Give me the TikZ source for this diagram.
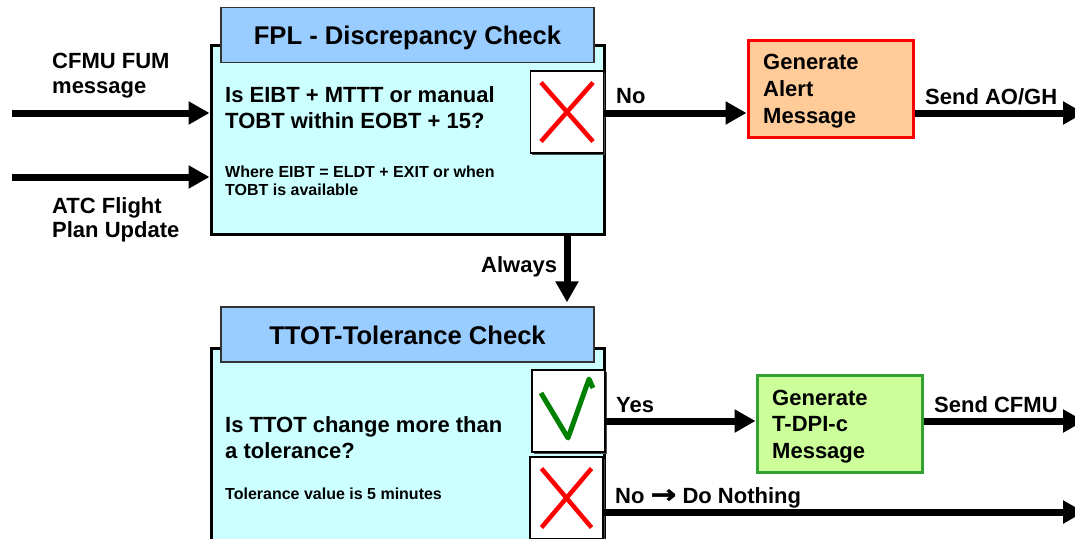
\documentclass[tikz,border=0pt]{standalone}
\usepackage{fontspec}
\setmainfont{Liberation Sans}
\newfontfamily\arrowfont{DejaVu Sans Bold}[FakeBold=1.6]
\usetikzlibrary{arrows.meta,shadows,calc}
\definecolor{checkbg}{HTML}{CCFFFF}
\definecolor{titlebg}{HTML}{99CCFF}
\definecolor{alertbg}{HTML}{FFCC99}
\definecolor{genbg}{HTML}{CCFF99}
\definecolor{genline}{HTML}{33A033}
\definecolor{tickgreen}{HTML}{008000}
\begin{document}
\begin{tikzpicture}[x=1pt,y=-1pt,
  flow/.style={line width=7pt,-{Triangle[length=21pt,width=22pt]}},
  mainbox/.style={draw=black,line width=3pt,fill=checkbg,inner sep=0pt},
  titlebox/.style={draw=black!80,line width=1.3pt,fill=titlebg,inner sep=0pt,
    minimum width=373pt,minimum height=55pt,text height=19pt,text depth=0pt,
    font=\bfseries\fontsize{25.6}{30}\selectfont},
  markbox/.style={draw=black,line width=1.2pt,fill=white,inner sep=0pt,
    minimum width=73pt,minimum height=82pt,
    drop shadow={shadow xshift=1.5pt,shadow yshift=-1.5pt,fill=black!70,opacity=1}},
  msgbox/.style={line width=3pt,inner sep=0pt,minimum width=165pt,minimum height=97pt},
  bigtxt/.style={anchor=base west,inner sep=0pt,align=left,
    font=\bfseries\fontsize{22}{26.7}\selectfont},
  smalltxt/.style={anchor=base west,inner sep=0pt,align=left,
    font=\bfseries\fontsize{16}{18.5}\selectfont},
  cross/.style={draw=red,line width=4.5pt},
  tick/.style={draw=tickgreen,line width=5pt,line join=round}]
\useasboundingbox (0,0) rectangle (1075,538);
\clip (0,0) rectangle (1075,538);

% multi-line text nodes are placed by the baseline of their last line

% ---------- FPL discrepancy check ----------
\node[mainbox,minimum width=393pt,minimum height=189pt] (fpl) at (407.5,139.5) {};
\node[titlebox] (fpltitle) at (407.5,35) {FPL - Discrepancy Check};
\node[markbox] (fplx) at (567,112) {};
\draw[cross] ([shift={(-26,-29.5)}]fplx.center) -- ([shift={(26,29.5)}]fplx.center);
\draw[cross] ([shift={(26,-29.5)}]fplx.center) -- ([shift={(-26,29.5)}]fplx.center);
\node[bigtxt] (fplq) at (225,128.7) {Is EIBT + MTTT or manual\\TOBT within EOBT + 15?};
\node[smalltxt] (fplnote) at (225,195.5) {Where EIBT = ELDT + EXIT or when\\TOBT is available};

% inputs
\node[bigtxt,font=\bfseries\fontsize{22}{25}\selectfont] (in1lbl) at (52,93) {CFMU FUM\\message};
\node[bigtxt,font=\bfseries\fontsize{22}{24}\selectfont] (in2lbl) at (52,237) {ATC Flight\\Plan Update};
\coordinate (in1) at (12,113);
\coordinate (in2) at (12,177);
\draw[flow] (in1) -- (fpl.west |- in1);
\draw[flow] (in2) -- (fpl.west |- in2);

% alert branch
\node[msgbox,draw=red,fill=alertbg] (alert) at (830.5,88.5) {};
\node[bigtxt,font=\bfseries\fontsize{22}{27}\selectfont] (alerttxt) at (763,123) {Generate\\Alert\\Message};
\coordinate (ay) at (0,113);
\coordinate (out1) at (1084,113);
\draw[flow] (fplx.east |- ay) -- (alert.west |- ay);
\draw[flow] (alert.east |- ay) -- (out1);
\node[bigtxt] (nolbl) at (616,103) {No};
\node[bigtxt] (sendao) at (925,104) {Send AO/GH};

% ---------- TTOT tolerance check ----------
\node[mainbox,minimum width=393pt,minimum height=212pt] (tt) at (407.5,454) {};
\node[titlebox] (tttitle) at (407.5,334.5) {TTOT-Tolerance Check};
\node[markbox] (ttchk) at (568.5,411) {};
\draw[tick] ([shift={(-27.5,-18)}]ttchk.center) -- ([shift={(-0.5,27)}]ttchk.center)
  -- ([shift={(20.5,-32)}]ttchk.center) -- ([shift={(24.5,-23)}]ttchk.center);
\node[markbox] (ttx) at (566.5,498) {};
\draw[cross] ([shift={(-25,-29.5)}]ttx.center) -- ([shift={(25,29.5)}]ttx.center);
\draw[cross] ([shift={(25,-29.5)}]ttx.center) -- ([shift={(-25,29.5)}]ttx.center);
\node[bigtxt] (ttq) at (225,458.7) {Is TTOT change more than\\a tolerance?};
\node[smalltxt] (ttnote) at (225,499) {Tolerance value is 5 minutes};

% always link
\coordinate (alw) at (567,0);
\draw[flow,shorten >=4pt] (fpl.south -| alw) -- (tttitle.north -| alw);
\node[bigtxt] (alwlbl) at (481,272) {Always};

% yes branch
\node[msgbox,draw=genline,fill=genbg] (gen) at (839.5,423.5) {};
\node[bigtxt,font=\bfseries\fontsize{22}{26.5}\selectfont] (gentxt) at (772,458) {Generate\\T-DPI-c\\Message};
\coordinate (yy) at (0,421);
\coordinate (out2) at (1084,421);
\draw[flow] (ttchk.east |- yy) -- (gen.west |- yy);
\draw[flow] (gen.east |- yy) -- (out2);
\node[bigtxt] (yeslbl) at (616,412) {Yes};
\node[bigtxt] (sendcfmu) at (934,412) {Send CFMU};

% no branch
\coordinate (ny) at (0,512);
\coordinate (out3) at (1084,512);
\draw[flow] (ttx.east |- ny) -- (out3);
\node[bigtxt] (nonothing) at (615,503) {No {\arrowfont\scalebox{1.4}[1.15]{→}} Do Nothing};
\end{tikzpicture}
\end{document}
